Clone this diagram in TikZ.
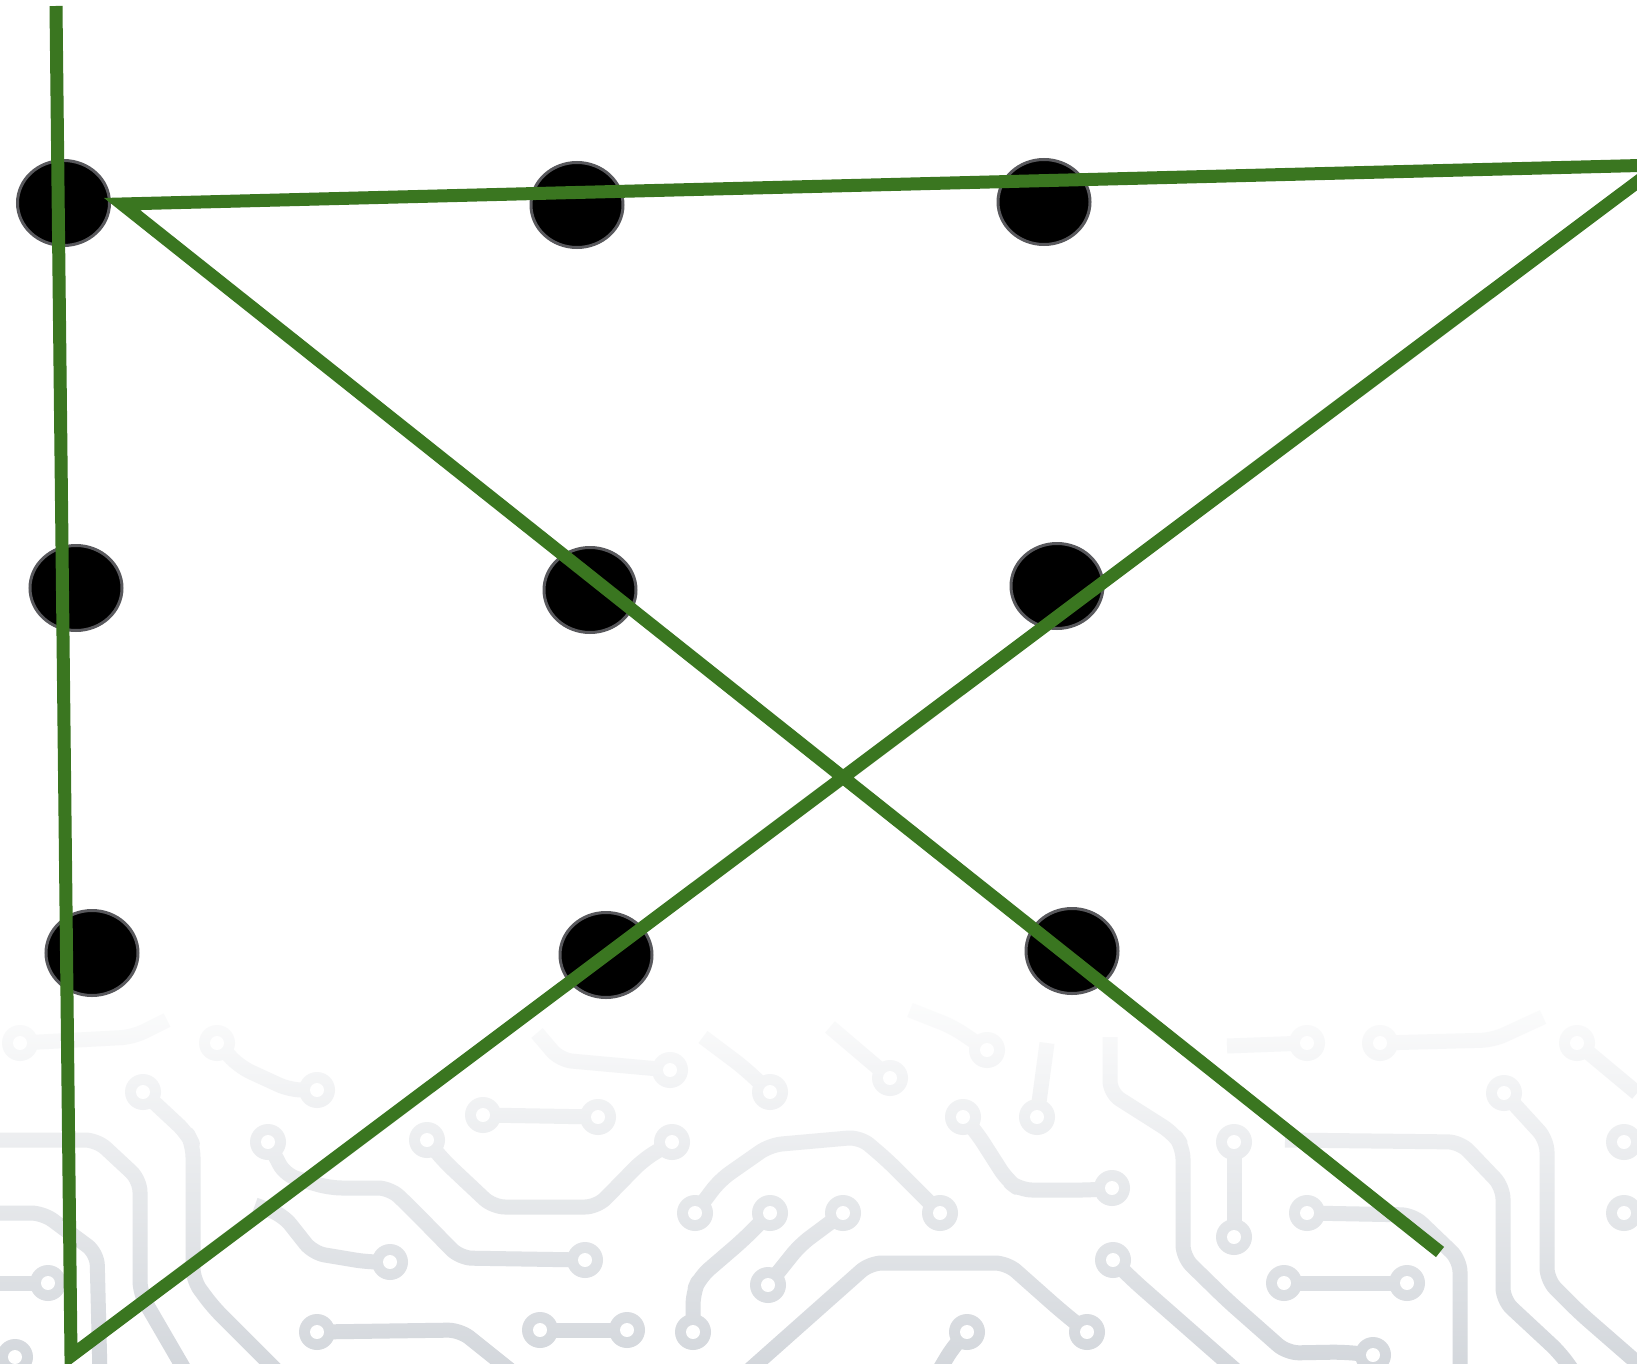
\documentclass[tikz,border=0pt]{standalone}
\usetikzlibrary{shapes.geometric,fadings}
\definecolor{puzzlegreen}{RGB}{58,118,32}
\definecolor{tracecol}{RGB}{210,214,219}
\definecolor{dotrim}{RGB}{88,88,92}
\tikzfading[name=fadedown, top color=transparent!0, middle color=transparent!40, bottom color=transparent!100]
\begin{document}
\begin{tikzpicture}[x=1pt,y=-1pt,
  tr/.style={draw=tracecol,line width=15pt,rounded corners=12pt,line join=round},
  dotnode/.style={ellipse,fill=black,draw=dotrim,line width=3pt,minimum width=92pt,minimum height=85pt,inner sep=0pt},
  solution/.style={draw=puzzlegreen,line width=13pt,line join=miter,line cap=butt}]
\useasboundingbox (0,0) rectangle (1637,1364);
\clip (0,0) rectangle (1637,1364);
\fill[white] (0,0) rectangle (1637,1364);
% circuit background traces
\draw[tr] (20,1043)--(77,1040)--(133,1037)--(167,1020);
\draw[tr] (217,1043)--(240,1067)--(290,1090)--(317,1090);
\draw[tr] (537,1033)--(560,1060)--(670,1070);
\draw[tr] (703,1037)--(743,1067)--(770,1092);
\draw[tr] (830,1027)--(890,1078);
\draw[tr] (910,1010)--(953,1027)--(987,1050);
\draw[tr] (1307,1043)--(1227,1046);
\draw[tr] (1380,1043)--(1493,1040)--(1543,1017);
\draw[tr] (1577,1043)--(1637,1093);
\draw[tr] (1037,1117)--(1047,1043);
\draw[tr] (-10,1140)--(97,1140)--(140,1180)--(140,1293)--(187,1374);
\draw[tr] (-10,1213)--(43,1213)--(97,1253)--(100,1374);
\draw[tr] (-10,1283)--(48,1283);
\draw[tr] (143,1092)--(187,1133)--(193,1145)--(193,1280)--(213,1307)--(280,1374);
\draw[tr] (268,1142)--(285,1175)--(330,1188)--(390,1188)--(410,1207)--(460,1258)--(585,1260);
\draw[tr] (255,1205)--(283,1215)--(313,1253)--(367,1262)--(390,1262);
\draw[tr] (317,1332)--(460,1330)--(515,1374);
\draw[tr] (483,1115)--(598,1117);
\draw[tr] (427,1140)--(443,1160)--(493,1207)--(597,1207)--(643,1160)--(672,1142);
\draw[tr] (540,1330)--(627,1330);
\draw[tr] (695,1213)--(720,1180)--(770,1145)--(860,1137)--(887,1160)--(940,1213);
\draw[tr] (770,1213)--(743,1240)--(700,1277)--(693,1293)--(693,1332);
\draw[tr] (768,1285)--(800,1245)--(843,1213);
\draw[tr] (745,1374)--(870,1263)--(1007,1263)--(1060,1310)--(1087,1332);
\draw[tr] (963,1117)--(977,1133)--(1007,1180)--(1020,1190)--(1093,1190)--(1112,1188);
\draw[tr] (1110,1037)--(1110,1093)--(1173,1133)--(1183,1147)--(1183,1257)--(1227,1300)--(1287,1353)--(1343,1352)--(1373,1355);
\draw[tr] (1113,1260)--(1133,1280)--(1240,1374);
\draw[tr] (967,1332)--(953,1347)--(937,1374);
\draw[tr] (1234,1142)--(1234,1237);
\draw[tr] (1504,1093)--(1547,1140)--(1547,1280)--(1580,1313)--(1650,1374);
\draw[tr] (1285,1140)--(1460,1142)--(1503,1187)--(1503,1300)--(1560,1353)--(1575,1374);
\draw[tr] (1307,1213)--(1413,1215)--(1460,1260)--(1460,1374);
\draw[tr] (1284,1283)--(1407,1283);
\draw[tr] (1624,1142)--(1650,1142);
\draw[tr] (1624,1213)--(1650,1213);
\foreach \px/\py in {20/1043,217/1043,317/1090,670/1070,770/1092,890/1078,987/1050,1307/1043,1380/1043,1577/1043,1037/1117,
  48/1283,15/1357,143/1092,268/1142,585/1260,390/1262,317/1332,483/1115,598/1117,427/1140,672/1142,540/1330,627/1330,
  695/1213,940/1213,770/1213,693/1332,768/1285,843/1213,1087/1332,963/1117,1112/1188,1373/1355,1113/1260,967/1332,
  1234/1142,1234/1237,1504/1093,1307/1213,1284/1283,1407/1283,1624/1142,1624/1213}
  {\fill[tracecol] (\px,\py) circle (18pt); \fill[white] (\px,\py) circle (7pt);}
% fade the circuit towards the top
\fill[white,path fading=fadedown] (-5,975) rectangle (1642,1380);
% the nine dots
\node[dotnode] (d11) at (63.5,203) {};
\node[dotnode] (d12) at (577,205) {};
\node[dotnode] (d13) at (1044,202) {};
\node[dotnode] (d21) at (76,588) {};
\node[dotnode] (d22) at (590,590) {};
\node[dotnode] (d23) at (1057,586) {};
\node[dotnode] (d31) at (92,953) {};
\node[dotnode] (d32) at (606,955) {};
\node[dotnode] (d33) at (1072,951) {};
% the four-line solution
\coordinate (top) at (56,6);
\coordinate (bot) at (71,1356);
\coordinate (corner) at (1660,165);
\coordinate (knee) at (122,204);
\coordinate (tail) at (1440,1252);
\draw[solution] (top) -- (bot) -- (corner) -- (knee) -- (tail);
\end{tikzpicture}
\end{document}
